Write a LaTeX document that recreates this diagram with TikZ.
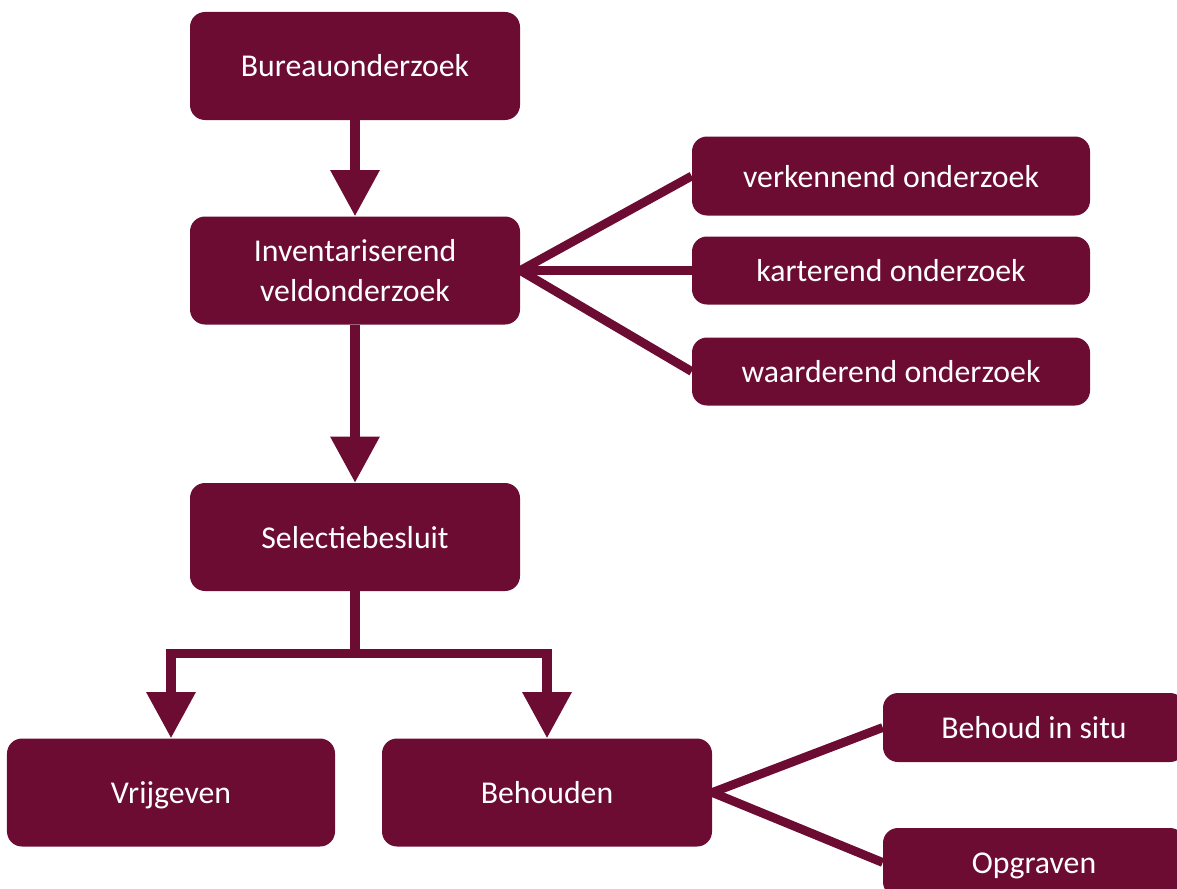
\documentclass[tikz,border=0pt]{standalone}
\usepackage{fontspec}
\setmainfont{Carlito}
\usetikzlibrary{shapes.geometric, arrows.meta}
\definecolor{wine}{HTML}{6D0C33}
\tikzstyle{mainbox} = [rectangle, rounded corners=0.375cm, minimum width=8.25cm, minimum height=2.7cm, text centered, align=center, fill=wine, text=white, font=\fontsize{22.6}{28}\selectfont]
\tikzstyle{oneline} = [text height=0.6cm, text depth=0.05cm]
\tikzstyle{sidebox} = [mainbox, oneline, minimum width=9.95cm, minimum height=1.7cm]
\tikzstyle{outbox} = [mainbox, oneline, minimum width=7.55cm, minimum height=1.725cm]
\tikzstyle{arrow} = [draw=wine, line width=0.23cm, -{Triangle[width=1.175cm,length=1.15cm]}]
\tikzstyle{link} = [draw=wine, line width=0.22cm]

\begin{document}
\begin{tikzpicture}[node distance=2cm]
\useasboundingbox (0,0) rectangle (29.425,-22.2);
\clip (0,0) rectangle (29.425,-22.2);
\node (bureau) [mainbox, oneline] at (8.875,-1.65) {Bureauonderzoek};
\node (inv) [mainbox, below of=bureau, yshift=-3.1125cm] {Inventariserend\\veldonderzoek};

\node (kart) [sidebox, right of=inv, xshift=11.4cm] {karterend onderzoek};
\node (verk) [sidebox, above of=kart, yshift=0.3625cm, minimum height=1.975cm] {verkennend onderzoek};
\node (waard) [sidebox, below of=kart, yshift=-0.525cm] {waarderend onderzoek};

\node (sel) [mainbox, oneline, below of=inv, yshift=-4.6625cm] {Selectiebesluit};
\node (vrij) [mainbox, oneline, below of=sel, xshift=-4.6cm, yshift=-4.3875cm, minimum width=8.2cm] {Vrijgeven};
\node (behouden) [mainbox, oneline, right of=vrij, xshift=7.4cm] {Behouden};

\node (insitu) [outbox, right of=behouden, xshift=10.175cm, yshift=1.625cm] {Behoud in situ};
\node (opgraven) [outbox, below of=insitu, yshift=-1.375cm] {Opgraven};

\draw [arrow] (bureau) -- (inv);
\draw [link] (inv.east) -- (verk.west);
\draw [link] (inv.east) -- (kart.west);
\draw [link] (inv.east) -- (waard.west);
\draw [arrow] (inv) -- (sel);

\draw [arrow] (sel.south) -- ++(0,-1.55cm) -| (vrij);
\draw [arrow] (sel.south) -- ++(0,-1.55cm) -| (behouden);

\draw [link] (behouden.east) -- (insitu.west);
\draw [link] (behouden.east) -- (opgraven.west);
\end{tikzpicture}
\end{document}
